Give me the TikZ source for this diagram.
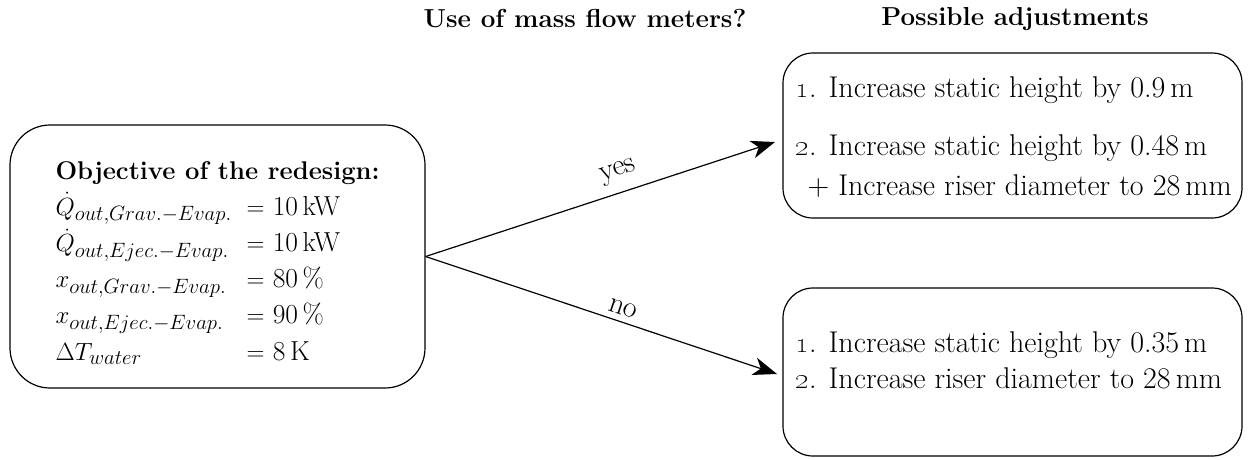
\documentclass[tikz,border=0pt]{standalone}
\usetikzlibrary{arrows.meta}
\begin{document}
\begin{tikzpicture}[x=1pt,y=-1pt,line width=1.2pt,
  box/.style={draw,rounded corners=30pt,inner sep=0pt},
  txt/.style={inner sep=0pt,anchor=base west,font=\fontsize{30}{40}\selectfont},
  hdr/.style={inner sep=0pt,font=\bfseries\fontsize{26}{30}\selectfont},
  lbl/.style={inner sep=6pt,font=\fontsize{30}{32}\selectfont},
  arr/.style={-{Stealth[length=24pt,width=18pt,inset=7pt]}}]
\useasboundingbox (0,0) rectangle (1258,459);
% headers
\node[hdr] (h1) at (585,19) {Use of mass flow meters?};
\node[hdr] (h2) at (1015,19) {Possible adjustments};
% left box
\node[box,rounded corners=40pt,minimum width=415pt,minimum height=263pt] (goal) at (217.5,256.5) {};
\node[txt,font=\fontsize{27.5}{36.2}\selectfont] (goaltxt) at (55,179) {\begin{tabular}[t]{@{}p{191pt}@{}l@{}}
\multicolumn{2}{@{}l@{}}{\fontsize{25.6}{30}\selectfont\bfseries Objective of the redesign:}\\
$\dot{Q}_{out,Grav.-Evap.}$ & $=$\ 10\,kW\\
$\dot{Q}_{out,Ejec.-Evap.}$ & $=$\ 10\,kW\\
$x_{out,Grav.-Evap.}$ & $=$\ 80\,\%\\
$x_{out,Ejec.-Evap.}$ & $=$\ 90\,\%\\
$\Delta T_{water}$ & $=$\ 8\,K
\end{tabular}};
% right boxes
\node[box,minimum width=459pt,minimum height=165pt] (yesbox) at (1012.5,135.5) {};
\node[txt] (yestxt) at (795,97) {\begin{tabular}[t]{@{}l@{}}
\oldstylenums{1}. Increase static height by 0.9\,m\\[18pt]
\oldstylenums{2}. Increase static height by 0.48\,m\\
\hspace*{12pt}+ Increase riser diameter to 28\,mm
\end{tabular}};
\node[box,minimum width=459pt,minimum height=168pt] (nobox) at (1012.5,372) {};
\node[txt] (notxt) at (795,352) {\begin{tabular}[t]{@{}l@{}}
\oldstylenums{1}. Increase static height by 0.35\,m\\[-4pt]
\oldstylenums{2}. Increase riser diameter to 28\,mm
\end{tabular}};
% connectors
\coordinate (yesend) at (775,142);
\coordinate (noend) at (777,374);
\draw[arr] (goal.east) -- node[lbl,inner sep=10pt,pos=0.57,above,sloped] (yeslbl) {yes} (yesend);
\draw[arr] (goal.east) -- node[lbl,pos=0.55,above,sloped] (nolbl) {no} (noend);
\end{tikzpicture}
\end{document}
